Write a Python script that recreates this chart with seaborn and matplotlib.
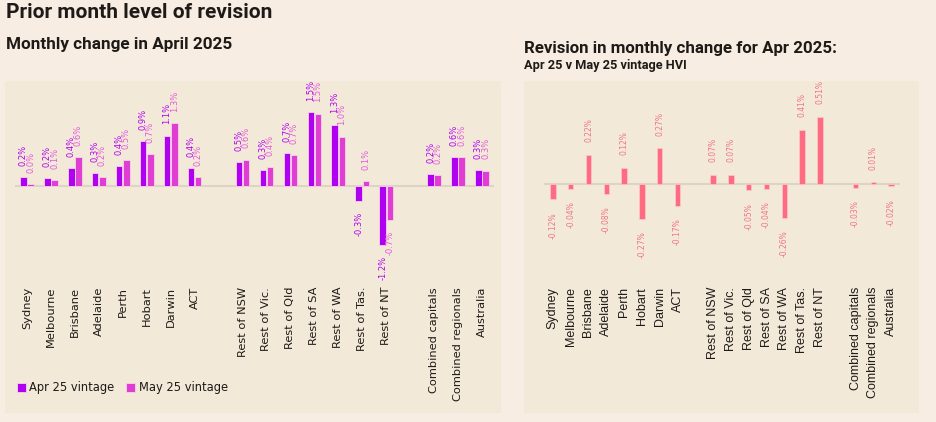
import matplotlib
matplotlib.use("Agg")
import matplotlib.pyplot as plt
import matplotlib.patches as mpatches
import numpy as np
import pandas as pd
import seaborn as sns

# regions, in the order shown (gaps split capitals / rest-of-state / aggregates)
capitals = ["Sydney", "Melbourne", "Brisbane", "Adelaide", "Perth", "Hobart", "Darwin", "ACT"]
regions = ["Rest of NSW", "Rest of Vic.", "Rest of Qld", "Rest of SA", "Rest of WA",
           "Rest of Tas.", "Rest of NT"]
aggregates = ["Combined capitals", "Combined regionals", "Australia"]
names = capitals + regions + aggregates
order = capitals + [" "] + regions + ["  "] + aggregates

# monthly change in April 2025 (%)
apr_vintage = [0.18, 0.17, 0.38, 0.26, 0.42, 0.94, 1.05, 0.37,
               0.49, 0.33, 0.69, 1.54, 1.28, -0.31, -1.23,
               0.25, 0.60, 0.34]
may_vintage = [0.04, 0.12, 0.60, 0.18, 0.54, 0.67, 1.32, 0.19,
               0.55, 0.40, 0.65, 1.51, 1.03, 0.11, -0.71,
               0.22, 0.61, 0.32]
# revision in monthly change (pp)
revision = [-0.12, -0.04, 0.22, -0.08, 0.12, -0.27, 0.27, -0.17,
            0.07, 0.07, -0.05, -0.04, -0.26, 0.41, 0.51,
            -0.03, 0.01, -0.02]

APR_COL = "#b000f2"
MAY_COL = "#e03ed2"
REV_COL = "#ff6b80"
BG = "#f7ede2"
PANEL = "#f3e9d8"
TXT = "#1e1a17"

df_left = pd.DataFrame({
    "region": names * 2,
    "change": apr_vintage + may_vintage,
    "vintage": ["Apr 25 vintage"] * len(names) + ["May 25 vintage"] * len(names),
})
df_right = pd.DataFrame({"region": names, "revision": revision})

sns.set_theme(style="white")
plt.rcParams["font.family"] = ["DejaVu Sans"]

W, H = 936, 422
fig = plt.figure(figsize=(W / 100, H / 100), dpi=100, facecolor=BG)


def px_box(x0, y0, x1, y1):
    # pixel box (top-left origin) -> figure fraction [l, b, w, h]
    return [x0 / W, 1 - y1 / H, (x1 - x0) / W, (y1 - y0) / H]


# panel backgrounds
for x0, y0, x1, y1 in [(5, 81, 501, 413), (524, 81, 919, 413)]:
    l, b, w, h = px_box(x0, y0, x1, y1)
    fig.patches.append(mpatches.Rectangle((l, b), w, h, transform=fig.transFigure,
                                          facecolor=PANEL, edgecolor="none", zorder=-5))

fig.text(6 / W, 1 - 13 / H, "Prior month level of revision", fontsize=15,
         fontweight="bold", color=TXT, va="center", family="Roboto")
fig.text(6 / W, 1 - 45 / H, "Monthly change in April 2025", fontsize=12.3,
         fontweight="bold", color=TXT, va="center", family="Roboto")
fig.text(524 / W, 1 - 48 / H, "Revision in monthly change for Apr 2025:", fontsize=12.2,
         fontweight="bold", color=TXT, va="center", family="Roboto")
fig.text(524 / W, 1 - 65 / H, "Apr 25 v May 25 vintage HVI", fontsize=9.2,
         fontweight="bold", color=TXT, va="center", family="Roboto")

# ---- left: monthly change, two vintages ----
ax1 = fig.add_axes(px_box(15, 90, 494, 280))
ax1.set_facecolor("none")
ax1.set_zorder(2)
sns.barplot(data=df_left, x="region", y="change", hue="vintage", order=order,
            palette=[APR_COL, MAY_COL], saturation=1, width=0.6, gap=0.1, ax=ax1,
            edgecolor="#f4d6e8", linewidth=0.6, legend=True)
ax1.axhline(0, color="#ddd4c6", lw=1.5, zorder=0)
ax1.set_ylim(-1.96, 2.0)
ax1.set_xlim(-0.5, len(order) - 0.5)
for cont, col in zip(ax1.containers, [APR_COL, "#e35ad8"]):
    ax1.bar_label(cont, fmt="%.1f%%", rotation=90, padding=8, fontsize=6, color=col)

leg = ax1.legend(loc="center left", bbox_to_anchor=(12 / W, 1 - 388 / H),
                 bbox_transform=fig.transFigure, ncol=2, frameon=False, fontsize=8.3,
                 handlelength=0.8, handleheight=0.8, handletextpad=0.3,
                 columnspacing=1.0, borderaxespad=0)
for t in leg.get_texts():
    t.set_color(TXT)

# ---- right: revision ----
ax2 = fig.add_axes(px_box(544, 90, 900, 280))
ax2.set_facecolor("none")
ax2.set_zorder(2)
sns.barplot(data=df_right, x="region", y="revision", order=order, color=REV_COL,
            saturation=1, width=0.3, ax=ax2, edgecolor="#f9c9cf", linewidth=0.5)
ax2.axhline(0, color="#ddd4c6", lw=1.5, zorder=0)
ax2.set_ylim(-0.735, 0.715)
ax2.set_xlim(-0.5, len(order) - 0.5)
ax2.bar_label(ax2.containers[0], fmt="%.2f%%", rotation=90, padding=9,
              fontsize=5.5, color="#f07584")

for ax, fam, fs in [(ax1, "DejaVu Sans", 8.2), (ax2, "Liberation Sans", 9)]:
    ax.set_xlabel("")
    ax.set_ylabel("")
    ax.set_yticks([])
    sns.despine(ax=ax, left=True, bottom=True)
    ax.tick_params(axis="x", length=0, pad=5)
    for lab in ax.get_xticklabels():
        lab.set_rotation(90)
        lab.set_fontsize(fs)
        lab.set_family(fam)
        lab.set_color(TXT)

fig.savefig("out.png", dpi=100, facecolor=BG)
